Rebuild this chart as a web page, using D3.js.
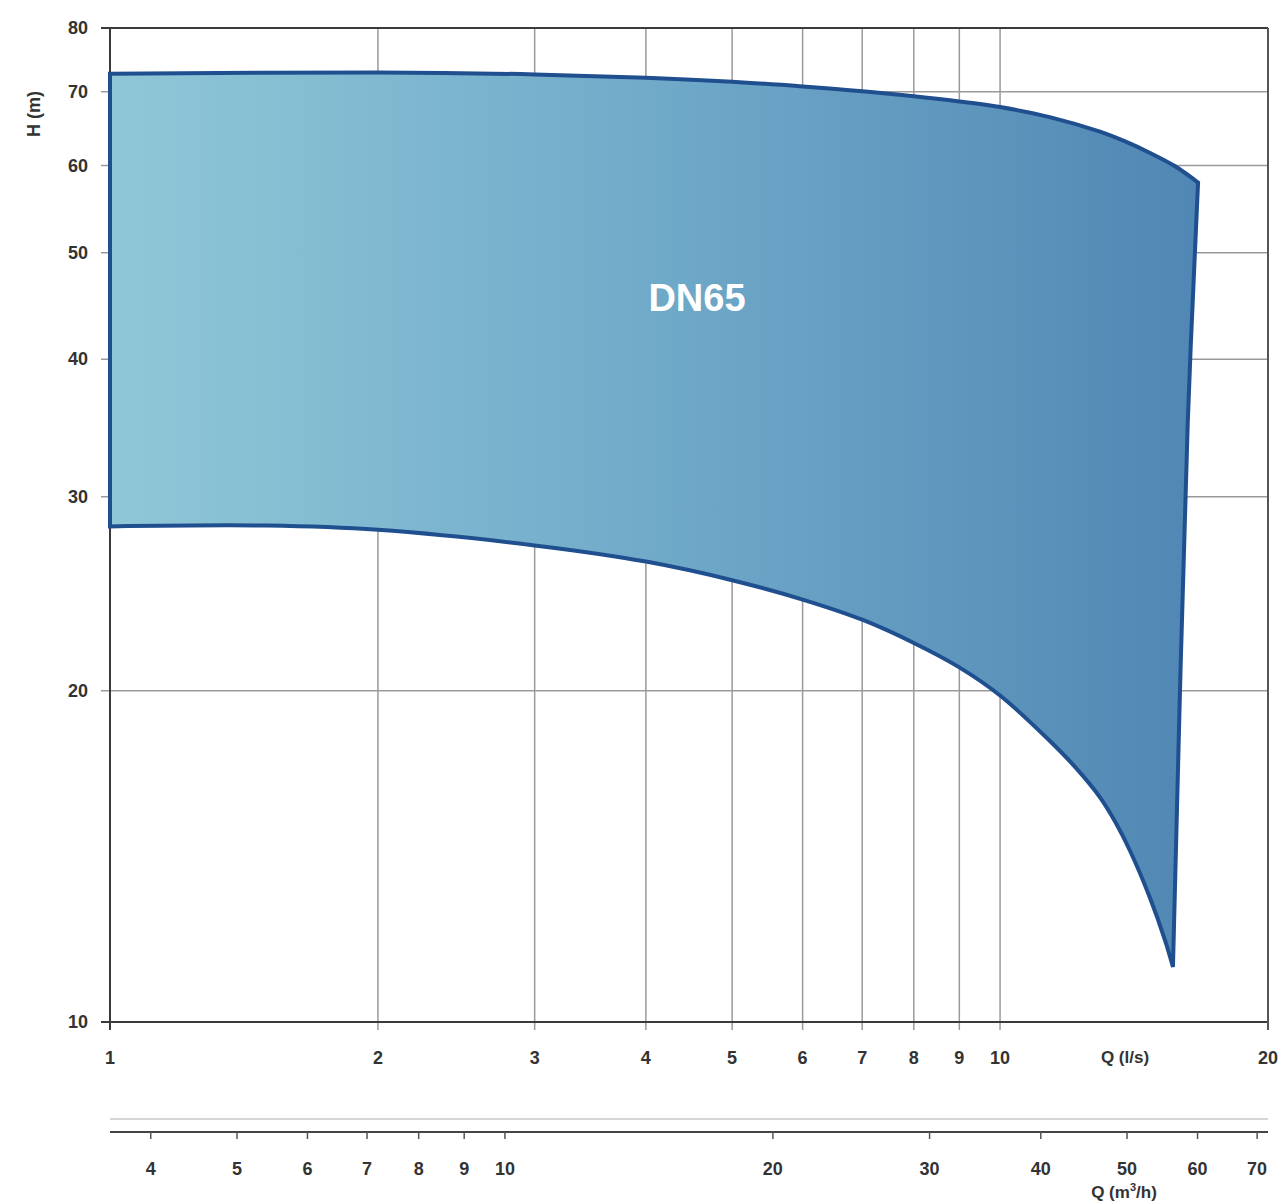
<!DOCTYPE html>
<html>
<head>
<meta charset="utf-8">
<script src="https://cdn.jsdelivr.net/npm/d3@7"></script>
<style>
  html, body { margin: 0; padding: 0; background: #ffffff; }
  svg { display: block; }
  text { font-family: "Liberation Sans", Arial, sans-serif; }
</style>
</head>
<body>
<svg id="chart" width="1282" height="1204"></svg>
<script>
// ---- data ----
const xTicks = [1, 2, 3, 4, 5, 6, 7, 8, 9, 10, 20];
const yTicks = [10, 20, 30, 40, 50, 60, 70, 80];
const m3hTicks = [4, 5, 6, 7, 8, 9, 10, 20, 30, 40, 50, 60, 70];

const upperQ = [1, 2, 3, 4, 5, 6, 7, 8, 9, 10, 11.37, 12.95, 13.82, 14.74, 15.73, 16.69];
const upperH = [72.7, 72.9, 72.6, 72.1, 71.5, 70.8, 70.1, 69.35, 68.6, 67.8, 66.4, 64.4, 63.1, 61.6, 59.9, 57.9];

const edgeQ = [16.69, 16.25, 15.64];
const edgeH = [57.9, 35.0, 11.22];

const lowerQ = [1, 1.5, 2, 3, 4, 5, 6, 7, 8, 9, 10, 11.37, 12.14, 12.95, 13.47, 14.0, 14.74, 15.33, 15.64];
const lowerH = [28.2, 28.25, 28.0, 27.1, 26.2, 25.2, 24.2, 23.2, 22.1, 21.0, 19.8, 18.01, 17.05, 16.0, 15.2, 14.3, 12.96, 11.85, 11.22];

const areaLabel = "DN65";
const xTitle = "Q (l/s)";
const yTitle = "H (m)";

// ---- layout ----
const L = 110, R = 1268, T = 28, B = 1022;
const svg = d3.select("#chart");

const x = d3.scaleLog().domain([1, 20]).range([L, R]);
const y = d3.scaleLog().domain([10, 80]).range([B, T]);
const xm = d3.scaleLog().domain([3.6, 72]).range([L, R]); // m3/h = 3.6 * l/s

// gradient
const defs = svg.append("defs");
const grad = defs.append("linearGradient").attr("id", "fillGrad")
  .attr("gradientUnits", "userSpaceOnUse")
  .attr("x1", L).attr("y1", 0).attr("x2", x(16.69)).attr("y2", 0);
grad.append("stop").attr("offset", "0%").attr("stop-color", "#90c7d7");
grad.append("stop").attr("offset", "50%").attr("stop-color", "#70aac9");
grad.append("stop").attr("offset", "100%").attr("stop-color", "#5087b4");

// grid
const grid = svg.append("g");
xTicks.filter(d => d > 1 && d < 20).forEach(d => {
  grid.append("line").attr("x1", x(d)).attr("x2", x(d)).attr("y1", T).attr("y2", B + 8)
    .attr("stroke", "#9a9a9a").attr("stroke-width", 1.5);
});
yTicks.filter(d => d > 10 && d < 80).forEach(d => {
  grid.append("line").attr("x1", L - 9).attr("x2", R).attr("y1", y(d)).attr("y2", y(d))
    .attr("stroke", "#9a9a9a").attr("stroke-width", 1.5);
});

// frame
const frame = svg.append("g").attr("stroke", "#3a3a3a").attr("stroke-width", 2);
frame.append("line").attr("x1", L - 9).attr("x2", R).attr("y1", T).attr("y2", T);
frame.append("line").attr("x1", L - 9).attr("x2", R).attr("y1", B).attr("y2", B);
frame.append("line").attr("x1", L).attr("x2", L).attr("y1", T).attr("y2", B + 8);
frame.append("line").attr("x1", R).attr("x2", R).attr("y1", T).attr("y2", B + 8)
  .attr("stroke", "#555");

// area
const line = d3.line().x(d => x(d[0])).y(d => y(d[1])).curve(d3.curveCatmullRom.alpha(0.5));
const up = upperQ.map((q, i) => [q, upperH[i]]);
const edge = edgeQ.map((q, i) => [q, edgeH[i]]);
const low = lowerQ.map((q, i) => [q, lowerH[i]]).reverse();
const pathD = line(up) + line(edge).replace(/^M/, "L") + line(low).replace(/^M/, "L") + "Z";
svg.append("path").attr("d", pathD)
  .attr("fill", "url(#fillGrad)")
  .attr("stroke", "#1f4f8f").attr("stroke-width", 4)
  .attr("stroke-linejoin", "miter");

// area label
svg.append("text").attr("x", 697).attr("y", 311).attr("text-anchor", "middle")
  .attr("fill", "#ffffff").attr("font-size", 38).attr("font-weight", "bold")
  .text(areaLabel);

// y labels
yTicks.forEach(d => {
  svg.append("text").attr("x", 88).attr("y", y(d) + 6).attr("text-anchor", "end")
    .attr("font-size", 18).attr("font-weight", "bold").attr("fill", "#333")
    .text(d);
});
svg.append("text").attr("transform", `translate(${40},${114}) rotate(-90)`)
  .attr("text-anchor", "middle").attr("font-size", 18).attr("font-weight", "bold").attr("fill", "#333")
  .text(yTitle);

// x labels
xTicks.forEach(d => {
  svg.append("text").attr("x", x(d)).attr("y", 1064).attr("text-anchor", "middle")
    .attr("font-size", 18).attr("font-weight", "bold").attr("fill", "#333")
    .text(d);
});
svg.append("text").attr("x", 1125).attr("y", 1063).attr("text-anchor", "middle")
  .attr("font-size", 17).attr("font-weight", "bold").attr("fill", "#333")
  .text(xTitle);

// secondary axis (m3/h)
svg.append("line").attr("x1", L).attr("x2", R).attr("y1", 1119).attr("y2", 1119)
  .attr("stroke", "#c8c8c8").attr("stroke-width", 1.5);
svg.append("line").attr("x1", L).attr("x2", R).attr("y1", 1132).attr("y2", 1132)
  .attr("stroke", "#444").attr("stroke-width", 2);
m3hTicks.forEach(d => {
  svg.append("line").attr("x1", xm(d)).attr("x2", xm(d)).attr("y1", 1132).attr("y2", 1139)
    .attr("stroke", "#555").attr("stroke-width", 1.5);
  svg.append("text").attr("x", xm(d)).attr("y", 1175).attr("text-anchor", "middle")
    .attr("font-size", 18).attr("font-weight", "bold").attr("fill", "#333")
    .text(d);
});
const t2 = svg.append("text").attr("x", 1124).attr("y", 1198).attr("text-anchor", "middle")
  .attr("font-size", 17).attr("font-weight", "bold").attr("fill", "#333");
t2.append("tspan").text("Q (m");
t2.append("tspan").attr("dy", -7).attr("font-size", 11).text("3");
t2.append("tspan").attr("dy", 7).text("/h)");
</script>
</body>
</html>
